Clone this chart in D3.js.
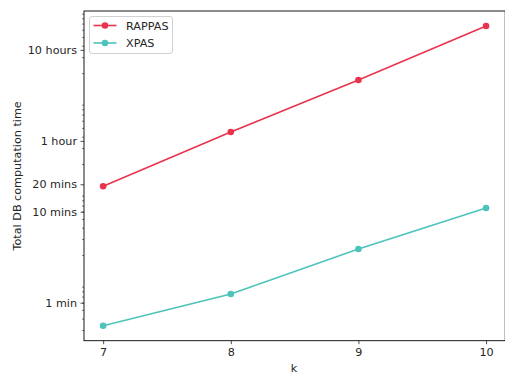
<!DOCTYPE html>
<html>
<head>
<meta charset="utf-8">
<script src="https://cdn.jsdelivr.net/npm/d3@7"></script>
<style>
  html, body { margin: 0; padding: 0; background: #fff; }
  svg { display: block; font-family: "DejaVu Sans", sans-serif; }
</style>
</head>
<body>
<svg id="chart" width="505" height="374"></svg>
<script>
// k-mer length
const kValues = [7, 8, 9, 10];
// Total DB computation time, in seconds
const rappasSeconds = [1140, 4500, 16800, 65900];
const xpasSeconds = [33.5, 74.7, 233, 659];
// Labelled y ticks (seconds) and their labels
const yTickValues = [60, 600, 1200, 3600, 36000];
const yTickLabels = ["1 min", "10 mins", "20 mins", "1 hour", "10 hours"];
const xTickValues = [7, 8, 9, 10];

const series = [
  { name: "RAPPAS", values: rappasSeconds, color: "#e8344d" },
  { name: "XPAS", values: xpasSeconds, color: "#4cc3bb" }
];

const fontSize = 11.2;
const svg = d3.select("#chart");
const plot = { left: 84, right: 505.2, top: 11, bottom: 340.7 };

// Axis limits padded by 5% of the data span, as a plotting library does by default
const xMin = d3.min(kValues), xMax = d3.max(kValues);
const xPad = (xMax - xMin) * 0.05;
const x = d3.scaleLinear()
  .domain([xMin - xPad, xMax + xPad])
  .range([plot.left, plot.right]);

const allY = rappasSeconds.concat(xpasSeconds);
const lMin = Math.log10(d3.min(allY)), lMax = Math.log10(d3.max(allY));
const lPad = (lMax - lMin) * 0.05;
const y = d3.scaleLog()
  .domain([Math.pow(10, lMin - lPad), Math.pow(10, lMax + lPad)])
  .range([plot.bottom, plot.top]);

const ink = "#262626";

// Minor log ticks at 2..9 x 10^n seconds
const minorTicks = [];
for (let n = 0; n <= 5; n++) {
  for (let d = 2; d <= 9; d++) {
    const v = d * Math.pow(10, n);
    if (v >= y.domain()[0] && v <= y.domain()[1]) minorTicks.push(v);
  }
}

const yAxisMinor = d3.axisLeft(y).tickValues(minorTicks).tickSize(2).tickFormat("");
svg.append("g")
  .attr("transform", `translate(${plot.left},0)`)
  .call(yAxisMinor)
  .call(g => g.select(".domain").remove())
  .call(g => g.selectAll("line").attr("stroke", ink).attr("stroke-width", 0.6));

const yAxis = d3.axisLeft(y)
  .tickValues(yTickValues)
  .tickSize(3.5)
  .tickPadding(3.5)
  .tickFormat((d, i) => yTickLabels[i]);
svg.append("g")
  .attr("transform", `translate(${plot.left},0)`)
  .call(yAxis)
  .call(g => g.select(".domain").remove())
  .call(g => g.selectAll("line").attr("stroke", ink).attr("stroke-width", 0.8))
  .call(g => g.selectAll("text").attr("fill", ink).attr("font-size", fontSize)
    .attr("font-family", "DejaVu Sans, sans-serif"));

const xAxis = d3.axisBottom(x)
  .tickValues(xTickValues)
  .tickSize(3.5)
  .tickPadding(3.5)
  .tickFormat(d3.format("d"));
svg.append("g")
  .attr("transform", `translate(0,${plot.bottom})`)
  .call(xAxis)
  .call(g => g.select(".domain").remove())
  .call(g => g.selectAll("line").attr("stroke", ink).attr("stroke-width", 0.8))
  .call(g => g.selectAll("text").attr("fill", ink).attr("font-size", fontSize)
    .attr("font-family", "DejaVu Sans, sans-serif"));

// Data lines and markers
const line = d3.line()
  .x((d, i) => x(kValues[i]))
  .y(d => y(d));

series.forEach(s => {
  svg.append("path")
    .datum(s.values)
    .attr("fill", "none")
    .attr("stroke", s.color)
    .attr("stroke-width", 1.6)
    .attr("d", line);
  svg.append("g").selectAll("circle")
    .data(s.values)
    .join("circle")
    .attr("cx", (d, i) => x(kValues[i]))
    .attr("cy", d => y(d))
    .attr("r", 3.3)
    .attr("fill", s.color);
});

// Frame
svg.append("rect")
  .attr("x", plot.left)
  .attr("y", plot.top)
  .attr("width", plot.right - plot.left)
  .attr("height", plot.bottom - plot.top)
  .attr("fill", "none")
  .attr("stroke", "#000")
  .attr("stroke-width", 0.9);

// Axis titles
svg.append("text")
  .attr("x", (plot.left + plot.right) / 2 - 0.5)
  .attr("y", 371.5)
  .attr("text-anchor", "middle")
  .attr("font-size", fontSize)
  .attr("fill", ink)
  .text("k");

svg.append("text")
  .attr("transform", `translate(21,${(plot.top + plot.bottom) / 2}) rotate(-90)`)
  .attr("text-anchor", "middle")
  .attr("font-size", fontSize)
  .attr("fill", ink)
  .text("Total DB computation time");

// Legend
const legend = svg.append("g").attr("transform", "translate(89,16)");
legend.append("rect")
  .attr("x", 0.5).attr("y", 0.5)
  .attr("width", 83).attr("height", 37)
  .attr("rx", 2.5)
  .attr("fill", "#fff").attr("fill-opacity", 0.8)
  .attr("stroke", "#cccccc").attr("stroke-width", 0.9);

series.forEach((s, i) => {
  const row = legend.append("g").attr("transform", `translate(0,${9.5 + i * 17.5})`);
  row.append("line")
    .attr("x1", 4.5).attr("x2", 27.5)
    .attr("stroke", s.color).attr("stroke-width", 1.6);
  row.append("circle").attr("cx", 16).attr("r", 3.3).attr("fill", s.color);
  row.append("text")
    .attr("x", 37).attr("y", 4)
    .attr("font-size", fontSize)
    .attr("fill", ink)
    .text(s.name);
});
</script>
</body>
</html>
